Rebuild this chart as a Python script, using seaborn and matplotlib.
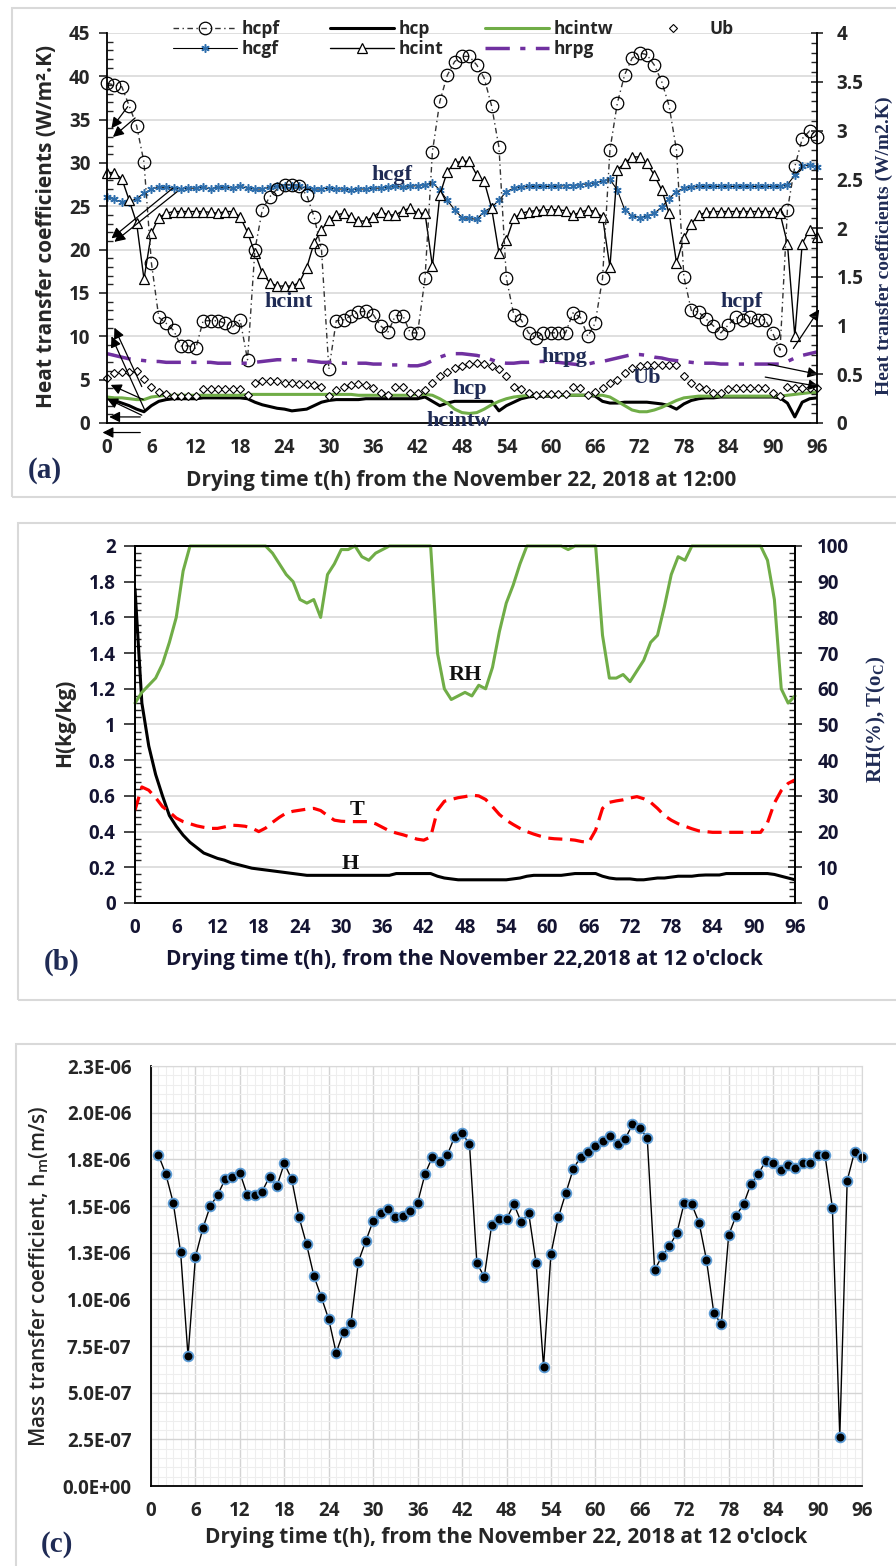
import pandas as pd
import seaborn as sns
import matplotlib
matplotlib.use('Agg')
import matplotlib.pyplot as plt
from matplotlib.patches import Rectangle
from matplotlib.ticker import MultipleLocator, FixedLocator, FuncFormatter

# ---------------- (a) heat transfer coefficients, hourly 0..96 h
t = list(range(97))
hcpf = [39.2, 39.0, 38.8, 36.6, 34.3, 30.1, 18.5, 12.2, 11.5, 10.7,
        8.9, 8.9, 8.6, 11.8, 11.8, 11.8, 11.5, 11.1, 11.9, 7.3,
        20.0, 24.6, 26.1, 27.0, 27.5, 27.5, 27.3, 26.3, 23.8, 20.0,
        6.2, 11.8, 11.9, 12.4, 12.8, 12.9, 12.5, 11.2, 10.5, 12.4,
        12.4, 10.4, 10.4, 16.7, 31.3, 37.1, 40.1, 41.7, 42.3, 42.3,
        41.3, 39.8, 36.6, 31.8, 16.7, 12.5, 11.9, 10.4, 9.8, 10.4,
        10.4, 10.4, 10.4, 12.7, 12.2, 10.0, 11.5, 16.7, 31.5, 36.9,
        40.2, 42.1, 42.7, 42.5, 41.3, 39.4, 36.6, 31.5, 16.9, 13.0,
        12.8, 12.0, 11.2, 10.4, 11.3, 12.2, 11.9, 12.2, 11.9, 11.9,
        10.4, 8.4, 24.6, 29.6, 32.8, 33.7, 33.0]
hcgf = [26.1, 25.8, 25.5, 25.5, 25.9, 26.5, 27.0, 27.2, 27.2, 27.1,
        27.0, 27.1, 27.1, 27.2, 27.0, 27.2, 27.2, 27.1, 27.3, 27.1,
        27.0, 27.0, 27.2, 27.3, 27.4, 27.4, 27.3, 27.1, 27.0, 27.0,
        27.1, 27.0, 27.0, 26.9, 27.0, 27.0, 27.1, 27.1, 27.2, 27.3,
        27.2, 27.3, 27.4, 27.5, 27.7, 26.9, 25.7, 24.6, 23.7, 23.6,
        23.5, 24.4, 24.9, 25.7, 26.7, 27.1, 27.2, 27.3, 27.3, 27.3,
        27.3, 27.3, 27.4, 27.4, 27.5, 27.6, 27.7, 27.9, 28.1, 26.9,
        24.6, 23.9, 23.7, 23.9, 24.2, 24.9, 25.9, 26.7, 27.1, 27.2,
        27.3, 27.3, 27.3, 27.3, 27.3, 27.3, 27.3, 27.3, 27.3, 27.3,
        27.3, 27.3, 27.5, 28.6, 29.6, 29.8, 29.5]
hcint = [28.9, 28.8, 28.2, 25.7, 23.1, 16.6, 21.9, 23.7, 24.2, 24.4,
         24.4, 24.4, 24.4, 24.4, 24.3, 24.2, 24.4, 24.4, 23.8, 22.0,
         19.6, 17.3, 16.2, 15.8, 15.8, 15.8, 16.2, 17.9, 20.8, 22.3,
         23.4, 24.0, 24.2, 23.8, 23.3, 23.3, 23.8, 24.4, 24.0, 24.0,
         24.5, 24.8, 24.2, 24.2, 18.1, 26.3, 29.0, 30.0, 30.2, 30.2,
         28.6, 27.9, 24.8, 19.6, 21.1, 23.6, 24.2, 24.4, 24.5, 24.6,
         24.6, 24.6, 24.5, 24.0, 24.3, 24.6, 24.4, 23.8, 18.0, 29.2,
         30.0, 30.7, 30.7, 30.0, 28.6, 26.9, 24.2, 18.5, 21.3, 23.0,
         24.0, 24.3, 24.4, 24.4, 24.4, 24.4, 24.4, 24.4, 24.4, 24.4,
         24.4, 24.2, 20.7, 10.0, 20.7, 22.3, 21.5]
hcp = [2.9, 2.6, 2.3, 2.0, 1.6, 1.3, 2.0, 2.5, 2.7, 2.8,
       2.8, 2.8, 2.8, 2.9, 2.9, 2.9, 2.9, 2.9, 2.9, 2.8,
       2.4, 2.1, 1.9, 1.7, 1.6, 1.4, 1.5, 1.6, 2.0, 2.4,
       2.6, 2.7, 2.7, 2.7, 2.7, 2.8, 2.8, 2.8, 2.8, 2.8,
       2.8, 2.8, 2.8, 3.0, 2.5, 2.0, 2.3, 2.5, 2.5, 2.5,
       2.5, 2.5, 2.5, 1.4, 2.0, 2.4, 2.8, 3.0, 3.1, 3.1,
       3.1, 3.2, 3.2, 3.2, 3.2, 3.2, 3.1, 2.5, 2.3, 2.3,
       2.4, 2.4, 2.4, 2.4, 2.3, 2.2, 2.0, 1.6, 2.2, 2.6,
       2.8, 2.9, 2.9, 3.0, 3.0, 3.0, 3.0, 3.0, 3.0, 3.0,
       3.0, 2.9, 2.3, 0.7, 2.4, 2.8, 2.9]
hcintw = [3.0, 2.9, 2.9, 2.8, 2.7, 2.7, 3.0, 3.1, 3.2, 3.2,
          3.2, 3.2, 3.2, 3.2, 3.2, 3.2, 3.2, 3.2, 3.2, 3.3,
          3.3, 3.3, 3.3, 3.3, 3.3, 3.3, 3.3, 3.3, 3.3, 3.3,
          3.3, 3.3, 3.3, 3.3, 3.2, 3.2, 3.2, 3.2, 3.2, 3.2,
          3.2, 3.2, 3.3, 3.3, 3.2, 2.8, 2.3, 1.6, 1.2, 1.1,
          1.2, 1.6, 2.1, 2.5, 2.8, 3.0, 3.1, 3.2, 3.2, 3.2,
          3.2, 3.2, 3.2, 3.2, 3.2, 3.2, 3.2, 3.2, 3.0, 2.5,
          2.0, 1.5, 1.3, 1.3, 1.5, 1.8, 2.2, 2.6, 2.9, 3.0,
          3.1, 3.1, 3.1, 3.1, 3.1, 3.1, 3.1, 3.1, 3.1, 3.1,
          3.1, 3.1, 3.2, 3.3, 3.4, 3.5, 3.5]
Ub = [5.2, 5.8, 5.9, 5.9, 6.0, 5.1, 4.2, 3.6, 3.4, 3.1,
      3.1, 3.1, 3.1, 3.9, 3.9, 3.9, 3.9, 3.9, 3.9, 3.2,
      4.6, 4.8, 4.9, 4.8, 4.6, 4.6, 4.5, 4.5, 4.4, 4.2,
      3.1, 3.8, 4.2, 4.4, 4.5, 4.4, 4.0, 3.5, 3.2, 4.2,
      4.2, 3.5, 3.5, 3.8, 4.6, 5.4, 5.9, 6.3, 6.6, 6.8,
      6.9, 6.8, 6.6, 6.2, 5.4, 4.2, 3.9, 3.5, 3.2, 3.3,
      3.3, 3.3, 3.3, 4.2, 4.0, 3.2, 3.6, 4.0, 4.6, 5.0,
      5.8, 6.3, 6.6, 6.7, 6.7, 6.7, 6.7, 6.7, 5.4, 4.6,
      4.2, 3.9, 3.5, 3.5, 3.9, 4.0, 4.0, 4.0, 4.0, 4.0,
      3.5, 3.1, 4.2, 4.0, 4.0, 4.0, 4.0]
hrpg = [8.0, 7.8, 7.6, 7.4, 7.3, 7.2, 7.1, 7.1, 7.0, 7.0,
        7.0, 7.0, 7.0, 7.0, 7.0, 6.9, 6.9, 6.9, 6.9, 6.9,
        7.0, 7.1, 7.2, 7.3, 7.3, 7.3, 7.3, 7.2, 7.1, 7.0,
        7.0, 7.0, 6.9, 6.9, 6.9, 6.9, 6.8, 6.8, 6.7, 6.7,
        6.7, 6.6, 6.6, 6.8, 7.2, 7.6, 7.9, 8.0, 8.0, 7.9,
        7.8, 7.6, 7.3, 7.0, 6.9, 6.9, 7.0, 7.0, 7.1, 7.1,
        7.0, 7.0, 6.9, 6.8, 6.7, 6.8, 7.0, 7.1, 7.3, 7.5,
        7.7, 7.9, 7.9, 7.8, 7.6, 7.5, 7.3, 7.2, 7.1, 7.0,
        6.9, 6.9, 6.9, 6.8, 6.8, 6.8, 6.8, 6.8, 6.8, 6.8,
        6.8, 6.8, 7.1, 7.5, 7.8, 8.0, 8.2]

# ---------------- (b) humidity ratio, relative humidity, temperature
H_kg = [1.76, 1.12, 0.88, 0.72, 0.60, 0.49, 0.43, 0.38, 0.34, 0.31,
        0.28, 0.265, 0.25, 0.24, 0.225, 0.215, 0.205, 0.195, 0.19, 0.185,
        0.18, 0.175, 0.17, 0.165, 0.16, 0.155, 0.155, 0.155, 0.155, 0.155,
        0.155, 0.155, 0.155, 0.155, 0.155, 0.155, 0.155, 0.155, 0.165, 0.165,
        0.165, 0.165, 0.165, 0.165, 0.15, 0.14, 0.135, 0.13, 0.13, 0.13,
        0.13, 0.13, 0.13, 0.13, 0.13, 0.135, 0.14, 0.15, 0.155, 0.155,
        0.155, 0.155, 0.155, 0.16, 0.165, 0.165, 0.165, 0.165, 0.15, 0.14,
        0.135, 0.135, 0.135, 0.13, 0.13, 0.135, 0.14, 0.14, 0.145, 0.15,
        0.15, 0.15, 0.155, 0.157, 0.157, 0.157, 0.165, 0.165, 0.165, 0.165,
        0.165, 0.165, 0.165, 0.16, 0.15, 0.14, 0.13]
RH = [56, 59, 61, 63, 67, 73, 80, 93, 100, 100,
      100, 100, 100, 100, 100, 100, 100, 100, 100, 100,
      98, 95, 92, 90, 85, 84, 85, 80, 92, 95,
      99, 99, 100, 97, 96, 98, 99, 100, 100, 100,
      100, 100, 100, 100, 70, 60, 57, 58, 59, 58,
      61, 60, 66, 76, 84, 89, 95, 100, 100, 100,
      100, 100, 100, 99, 100, 100, 100, 100, 75, 63,
      63, 64, 62, 65, 68, 73, 75, 83, 92, 97,
      96, 100, 100, 100, 100, 100, 100, 100, 100, 100,
      100, 100, 96, 85, 60, 56, 58]
T = [26.0, 32.5, 31.6, 29.5, 27.0, 25.5, 23.8, 22.8, 22.2, 21.6,
     21.2, 20.9, 20.9, 21.3, 21.8, 21.7, 21.5, 21.0, 20.0, 21.0,
     22.6, 24.0, 25.2, 25.7, 26.0, 26.3, 26.5, 25.9, 24.5, 23.2,
     22.9, 22.8, 22.8, 22.8, 22.8, 22.2, 21.2, 20.2, 19.6, 19.1,
     18.5, 17.9, 17.6, 18.5, 26.0, 28.5, 29.0, 29.5, 29.8, 30.2,
     30.0, 29.0, 27.0, 24.8, 23.2, 22.0, 20.9, 20.0, 19.3, 18.7,
     18.2, 18.0, 17.9, 17.8, 17.6, 17.2, 17.0, 20.4, 26.5, 28.2,
     28.6, 28.9, 29.4, 29.8, 29.2, 28.2, 26.5, 24.5, 23.2, 22.2,
     21.5, 20.8, 20.2, 20.0, 19.8, 19.8, 19.8, 19.8, 19.8, 19.8,
     19.8, 19.8, 22.5, 28.0, 31.5, 33.5, 34.5]

# ---------------- (c) mass transfer coefficient, hours 1..96 (in 1e-6 m/s)
t_c = list(range(1, 97))
hm = [1.773, 1.671, 1.518, 1.252, 0.696, 1.228, 1.380, 1.500, 1.559, 1.643,
      1.657, 1.678, 1.559, 1.559, 1.577, 1.657, 1.607, 1.728, 1.643, 1.439,
      1.295, 1.125, 1.011, 0.893, 0.714, 0.827, 0.875, 1.202, 1.312, 1.421,
      1.461, 1.484, 1.439, 1.446, 1.475, 1.518, 1.671, 1.764, 1.737, 1.773,
      1.871, 1.889, 1.832, 1.193, 1.121, 1.398, 1.430, 1.430, 1.510, 1.412,
      1.461, 1.193, 0.639, 1.243, 1.439, 1.568, 1.696, 1.764, 1.791, 1.821,
      1.850, 1.875, 1.830, 1.857, 1.937, 1.916, 1.866, 1.157, 1.232, 1.286,
      1.354, 1.518, 1.510, 1.411, 1.211, 0.925, 0.868, 1.344, 1.448, 1.509,
      1.618, 1.671, 1.741, 1.732, 1.693, 1.719, 1.705, 1.732, 1.728, 1.773,
      1.773, 1.491, 0.264, 1.636, 1.791, 1.764]
hm_ticks = [0, 0.25, 0.5, 0.75, 1.0, 1.25, 1.5, 1.75, 2.0, 2.25]
hm_ticklabels = ['0.0E+00', '2.5E-07', '5.0E-07', '7.5E-07', '1.0E-06',
                 '1.3E-06', '1.5E-06', '1.8E-06', '2.0E-06', '2.3E-06']

# curve labels and stray arrows of panel (a), in left-axis units
labels_a = [('hcgf', 38.5, 28.6), ('hcint', 24.5, 14.0), ('hrpg', 61.8, 7.6),
            ('Ub', 73.0, 5.2), ('hcp', 49.0, 3.9), ('hcintw', 47.5, 0.2),
            ('hcpf', 85.8, 14.0)]
arrows_a = [(2.8, 36.5, 0.6, 34.0), (3.8, 35.2, 0.8, 33.0),
            (8.9, 27.1, 0.6, 21.3), (9.5, 26.7, 1.0, 20.9),
            (4.7, 4.2, 1.0, 11.0), (5.1, 1.5, 0.6, 10.0),
            (4.9, 2.7, 0.5, 4.4), (4.7, 0.9, 0.0, 2.8),
            (4.5, 0.7, 0.3, 0.7), (4.5, -1.1, -0.6, -1.1),
            (92.8, 8.6, 96.3, 13.1), (89.4, 6.8, 96.2, 5.6),
            (89.0, 5.3, 96.3, 4.2)]

sns.set_style("white")
plt.rcParams['font.family'] = ['Open Sans', 'DejaVu Sans']
plt.rcParams['font.weight'] = 'bold'
plt.rcParams['mathtext.fontset'] = 'custom'
plt.rcParams['mathtext.rm'] = 'Open Sans:bold'
plt.rcParams['mathtext.it'] = 'Open Sans:bold'
SERIF = ['Liberation Serif', 'DejaVu Serif']
NAVY = '#1f2b55'
GREEN = '#70ad47'
TS = 13.5        # tick label size
LS = 15          # axis label size
general = FuncFormatter(lambda v, p: f'{v:g}')

W, Hpx = 896, 1566
fig = plt.figure(figsize=(W / 100, Hpx / 100), dpi=100)


def rect(l, tp, r, b):
    return [l / W, 1 - b / Hpx, (r - l) / W, (b - tp) / Hpx]


for l, tp, r, b in [(12, 8, 905, 497), (18, 523, 905, 1000), (16, 1044, 905, 1580)]:
    fig.patches.append(Rectangle((l / W, 1 - b / Hpx), (r - l) / W, (b - tp) / Hpx,
                                 transform=fig.transFigure, fill=False,
                                 ec='#d9d9d9', lw=1.5))

# ================= panel (a)
ax = fig.add_axes(rect(107, 33, 817, 423))
df_a = pd.DataFrame(dict(t=t, hcpf=hcpf, hcgf=hcgf, hcint=hcint, hcp=hcp,
                         hcintw=hcintw, Ub=Ub, hrpg=hrpg))

sns.lineplot(data=df_a, x='t', y='hcgf', ax=ax, color='black', lw=0.8,
             marker=(6, 2, 0), markersize=6, markeredgecolor='#2f6fad',
             markeredgewidth=1.1, label='hcgf', clip_on=False)
sns.lineplot(data=df_a, x='t', y='hcint', ax=ax, color='black', lw=1,
             marker='^', markersize=7.5, markerfacecolor='white',
             markeredgecolor='black', markeredgewidth=0.9, label='hcint', clip_on=False)
sns.lineplot(data=df_a, x='t', y='hcpf', ax=ax, color='#333333', lw=1,
             linestyle=(0, (4, 2.5, 1, 2.5)), marker='o', markersize=9,
             markerfacecolor='none', markeredgecolor='black',
             markeredgewidth=0.9, label='hcpf', clip_on=False)
sns.lineplot(data=df_a, x='t', y='hcp', ax=ax, color='black', lw=2.2, label='hcp')
sns.lineplot(data=df_a, x='t', y='hcintw', ax=ax, color=GREEN, lw=2.2, label='hcintw')
sns.lineplot(data=df_a, x='t', y='Ub', ax=ax, linestyle='none', marker='D',
             markersize=3.8, markerfacecolor='white', markeredgecolor='black',
             markeredgewidth=0.8, label='Ub', clip_on=False)
sns.lineplot(data=df_a, x='t', y='hrpg', ax=ax, color='#7030a0', lw=2.5,
             linestyle=(0, (7, 3, 1.5, 3)), label='hrpg')

ax.set_xlim(0, 96)
ax.set_ylim(0, 45)
ax.xaxis.set_major_locator(MultipleLocator(6))
ax.xaxis.set_minor_locator(MultipleLocator(1))
ax.yaxis.set_major_locator(MultipleLocator(5))
ax.yaxis.set_minor_locator(MultipleLocator(1))
ax.grid(True, axis='y', which='major', color='#d9d9d9', lw=1.2)
ax.set_axisbelow(True)
for s in ['top', 'right']:
    ax.spines[s].set_visible(False)
for s in ['left', 'bottom']:
    ax.spines[s].set_color('black')
    ax.spines[s].set_linewidth(1.3)
ax.tick_params(axis='x', which='major', direction='out', length=8, width=1.2,
               pad=3, labelsize=TS)
ax.tick_params(axis='x', which='minor', direction='in', length=5, width=1)
ax.tick_params(axis='y', which='major', direction='out', length=6, width=1.2,
               pad=6, labelsize=TS)
ax.tick_params(axis='y', which='minor', direction='in', length=4, width=1)

ax.set_xlabel('Drying time t(h) from the November 22, 2018 at 12:00',
              fontsize=LS, fontweight='bold')
ax.xaxis.set_label_coords(0.4986, -0.12)
ax.set_ylabel('Heat transfer coefficients (W/m\u00b2.K)', fontsize=LS, fontweight='bold')
ax.yaxis.set_label_coords(-0.07, 0.503)

# legend: four equally spaced columns, as in the original
handles, labs = ax.get_legend_handles_labels()
hd = dict(zip(labs, handles))
ax.get_legend().remove()
columns = [(173, ['hcpf', 'hcgf']), (330, ['hcp', 'hcint']),
           (485, ['hcintw', 'hrpg']), (641, ['Ub'])]
for x0, names in columns:
    fig.legend([hd[k] for k in names], names, loc='upper left',
               bbox_to_anchor=(x0 / W, 1 - 20 / Hpx), frameon=False,
               prop=dict(size=12.5, weight='bold'), handlelength=3.7,
               handletextpad=0.25, labelspacing=0.12, borderpad=0,
               borderaxespad=0)

for name, x, y in labels_a:
    ax.text(x, y, name, family=SERIF, fontsize=16, fontweight='bold',
            color=NAVY, ha='center', va='center')
for x0, y0, x1, y1 in arrows_a:
    ax.annotate('', xy=(x1, y1), xytext=(x0, y0), annotation_clip=False,
                arrowprops=dict(arrowstyle='-|>', color='black', lw=0.9,
                                mutation_scale=16, shrinkA=0, shrinkB=0))

ax2 = ax.twinx()
ax2.set_ylim(0, 4)
ax2.yaxis.set_major_locator(MultipleLocator(0.5))
ax2.yaxis.set_minor_locator(MultipleLocator(0.1))
ax2.yaxis.set_major_formatter(general)
for s in ['top', 'left', 'bottom']:
    ax2.spines[s].set_visible(False)
ax2.spines['right'].set_color('black')
ax2.spines['right'].set_linewidth(1.3)
ax2.tick_params(axis='y', which='major', direction='inout', length=8, width=1.2,
                pad=10, labelsize=TS)
ax2.tick_params(axis='y', which='minor', direction='in', length=4, width=1)
ax2.set_ylabel('Heat transfer coefficients (W/m2.K)', family=SERIF, fontsize=14,
               fontweight='bold', color=NAVY)
ax2.yaxis.set_label_coords(1.0825, 0.454)

fig.text(45 / W, 1 - 470 / Hpx, '(a)', family=SERIF, fontsize=21,
         fontweight='bold', color=NAVY, ha='center', va='center')

# ================= panel (b)
TICKC = '#141432'
bx = fig.add_axes(rect(135, 546, 795, 903))
sns.lineplot(x=t, y=H_kg, ax=bx, color='black', lw=2.2)
bx2 = bx.twinx()
sns.lineplot(x=t, y=RH, ax=bx2, color=GREEN, lw=2.2, clip_on=False)
sns.lineplot(x=t, y=T, ax=bx2, color='#ff0000', lw=2.3, linestyle=(0, (4.4, 2.4)))

bx.set_xlim(0, 96)
bx.set_ylim(0, 2)
bx2.set_ylim(0, 100)
bx.xaxis.set_major_locator(MultipleLocator(6))
bx.xaxis.set_minor_locator(MultipleLocator(1.2))
bx.yaxis.set_major_locator(MultipleLocator(0.2))
bx.yaxis.set_minor_locator(MultipleLocator(0.04))
bx.yaxis.set_major_formatter(general)
bx2.yaxis.set_major_locator(MultipleLocator(10))
bx2.yaxis.set_minor_locator(MultipleLocator(2))
bx.grid(True, axis='y', which='major', color='#d9d9d9', lw=1.2)
bx.set_axisbelow(True)
for a in (bx, bx2):
    for s in a.spines.values():
        s.set_color('black')
        s.set_linewidth(1.3)
bx.tick_params(axis='x', which='major', direction='out', length=7, width=1.2,
               pad=4, labelsize=TS, labelcolor=TICKC)
bx.tick_params(axis='x', which='minor', direction='in', length=5, width=1)
bx.tick_params(axis='y', which='major', direction='out', length=8, width=1.2,
               pad=6, labelsize=TS, labelcolor=TICKC)
bx.tick_params(axis='y', which='minor', direction='in', length=4, width=1)
bx2.tick_params(axis='y', which='major', direction='inout', length=10, width=1.2,
                pad=11, labelsize=TS, labelcolor=TICKC)
bx2.tick_params(axis='y', which='minor', direction='in', length=4, width=1)

bx.set_xlabel("Drying time t(h), from the November 22,2018 at 12 o'clock",
              fontsize=LS, fontweight='bold', color=TICKC)
bx.xaxis.set_label_coords(0.4985, -0.13)
bx.set_ylabel('H(kg/kg)', fontsize=LS, fontweight='bold')
bx.yaxis.set_label_coords(-0.09, 0.504)
bx2.set_ylabel('RH(%), T(o$_\\mathregular{C}$)', family=SERIF, fontsize=15,
               fontweight='bold', color=NAVY)
bx2.yaxis.set_label_coords(1.106, 0.513)

bx2.text(48.0, 64, 'RH', family=SERIF, fontsize=16, fontweight='bold',
         color='#111111', ha='center', va='center')
bx2.text(32.3, 26, 'T', family=SERIF, fontsize=16, fontweight='bold',
         color='#111111', ha='center', va='center')
bx.text(31.3, 0.22, 'H', family=SERIF, fontsize=16, fontweight='bold',
        color='#111111', ha='center', va='center')
fig.text(62 / W, 1 - 962 / Hpx, '(b)', family=SERIF, fontsize=21,
         fontweight='bold', color=NAVY, ha='center', va='center')

# ================= panel (c)
cx = fig.add_axes(rect(151, 1066, 862, 1486))
sns.lineplot(x=t_c, y=hm, ax=cx, color='black', lw=1, marker='o', markersize=7,
             markerfacecolor='black', markeredgecolor='#5b9bd5',
             markeredgewidth=1.3, clip_on=False)
cx.set_xlim(0, 96)
cx.set_ylim(0, 2.25)
cx.xaxis.set_major_locator(MultipleLocator(6))
cx.xaxis.set_minor_locator(MultipleLocator(1))
cx.yaxis.set_major_locator(FixedLocator(hm_ticks))
cx.set_yticklabels(hm_ticklabels)
cx.yaxis.set_minor_locator(MultipleLocator(0.05))
cx.grid(True, which='major', color='#d4d4d4', lw=1)
cx.grid(True, which='minor', color='#eeeeee', lw=0.8)
cx.set_axisbelow(True)
for s in ['top', 'right']:
    cx.spines[s].set_color('#d9d9d9')
for s in ['left', 'bottom']:
    cx.spines[s].set_color('black')
    cx.spines[s].set_linewidth(1.3)
cx.tick_params(axis='x', which='major', direction='out', length=6, width=1.2,
               pad=5, labelsize=TS)
cx.tick_params(axis='x', which='minor', direction='in', length=5, width=1)
cx.tick_params(axis='y', which='major', direction='out', length=6, width=1.2,
               pad=8, labelsize=TS)
cx.tick_params(axis='y', which='minor', direction='in', length=4, width=1)
cx.set_xlabel("Drying time t(h), from the November 22, 2018 at 12 o'clock",
              fontsize=LS, fontweight='bold')
cx.xaxis.set_label_coords(0.499, -0.097)
cx.set_ylabel('Mass transfer coefficient, h$_\\mathregular{m}$(m/s)', fontsize=LS,
              fontweight='semibold')
cx.yaxis.set_label_coords(-0.14, 0.5)
fig.text(57 / W, 1 - 1545 / Hpx, '(c)', family=SERIF, fontsize=21,
         fontweight='bold', color=NAVY, ha='center', va='center')

fig.savefig('out.png', dpi=100)
